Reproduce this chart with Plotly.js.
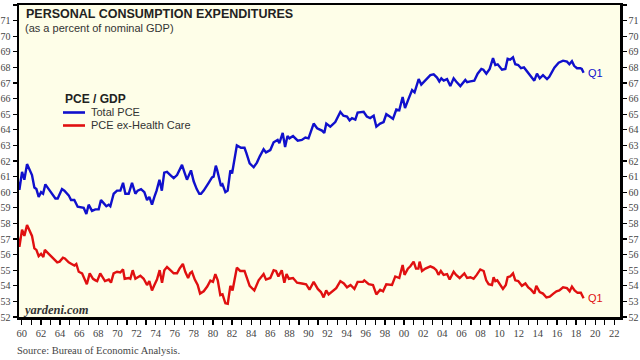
<!DOCTYPE html>
<html>
<head>
<meta charset="utf-8">
<script src="https://cdn.plot.ly/plotly-3.0.1.min.js"></script>
<style>html,body{margin:0;padding:0;background:#fff;}#chart{width:640px;height:360px;}</style>
</head>
<body>
<div id="chart"></div>
<script>
// Total PCE as % of nominal GDP (decimal year, value)
const totalYears = [1959.49,1959.74,1960.02,1960.26,1960.54,1960.89,1961.06,1961.31,1961.52,1961.76,1962.01,1962.22,1962.46,1962.81,1963.16,1963.51,1963.75,1964.2,1964.45,1964.9,1965.15,1965.49,1965.84,1966.23,1966.47,1966.75,1966.99,1967.34,1967.69,1968.04,1968.28,1968.56,1968.84,1969.09,1969.26,1969.61,1969.96,1970.31,1970.59,1970.83,1971.18,1971.53,1971.88,1972.12,1972.47,1972.82,1973.1,1973.34,1973.62,1973.87,1974.1,1974.4,1974.65,1974.9,1975.19,1975.54,1975.89,1976.24,1976.76,1977.0,1977.28,1977.7,1977.98,1978.3,1978.57,1978.75,1979.03,1979.55,1979.9,1980.07,1980.3,1980.45,1980.84,1981.0,1981.3,1981.54,1981.82,1982.0,1982.5,1982.93,1983.3,1983.5,1983.84,1984.26,1984.6,1984.9,1985.3,1985.55,1986.0,1986.35,1986.77,1986.95,1987.3,1987.55,1987.8,1988.0,1988.38,1988.87,1989.3,1989.67,1990.0,1990.54,1990.9,1991.41,1991.65,1991.86,1992.28,1992.8,1993.33,1993.65,1994.03,1994.3,1994.55,1994.9,1995.14,1995.77,1996.1,1996.45,1996.82,1997.1,1997.5,1997.86,1998.14,1998.5,1998.84,1999.19,1999.5,1999.85,2000.1,2000.48,2000.84,2001.1,2001.53,2001.8,2002.23,2002.75,2003.1,2003.45,2003.69,2003.9,2004.15,2004.5,2004.84,2005.19,2005.45,2005.89,2006.41,2006.6,2006.93,2007.35,2007.7,2008.09,2008.3,2008.61,2008.96,2009.31,2009.55,2009.8,2010.25,2010.6,2010.84,2011.1,2011.4,2011.64,2011.95,2012.24,2012.55,2012.87,2013.29,2013.63,2013.91,2014.2,2014.54,2014.96,2015.2,2015.73,2016.18,2016.64,2017.05,2017.3,2017.57,2017.8,2018.1,2018.44,2018.6,2018.79];
const totalPCE = [61.0,60.15,61.3,60.8,61.8,61.3,61.1,60.3,60.2,59.7,60.0,59.9,60.5,60.2,59.9,59.6,59.6,60.2,60.1,59.8,59.5,59.5,59.07,59.0,59.0,58.6,59.2,58.8,58.9,58.9,59.5,59.3,59.1,59.2,59.1,59.9,60.1,60.1,60.6,59.9,59.9,60.6,59.9,60.1,60.2,60.0,59.5,59.7,59.2,59.7,60.1,60.8,60.1,61.25,61.3,61.1,60.9,61.1,61.75,61.3,60.8,61.4,60.7,60.2,59.9,59.9,60.1,60.6,60.95,61.0,61.7,61.4,60.4,60.5,60.0,60.1,61.4,61.2,63.0,62.85,62.85,62.5,61.85,61.6,61.9,62.3,62.75,62.55,62.7,63.2,63.35,63.15,63.8,62.9,63.6,63.45,63.6,63.3,63.35,63.5,63.45,64.4,64.1,63.95,63.8,64.4,64.2,64.5,65.15,64.9,64.85,64.6,64.75,64.65,65.1,65.15,64.85,64.75,64.9,64.2,64.4,64.5,65.0,64.85,64.7,65.3,65.25,66.1,65.4,66.0,66.55,66.4,67.25,66.9,67.2,67.5,67.55,67.35,67.1,67.3,67.15,67.25,66.8,67.3,67.1,66.8,67.2,67.05,67.1,67.15,67.6,67.9,67.85,67.6,67.9,68.6,68.15,68.2,67.85,67.9,68.55,68.5,68.65,68.2,68.15,67.95,68.0,67.73,67.4,67.15,67.6,67.3,67.5,67.25,67.4,67.98,68.3,68.43,68.37,68.2,68.4,68.1,67.95,67.95,67.9,67.66];

// PCE ex-Health Care as % of nominal GDP (decimal year, value)
const exHealthYears = [1959.49,1959.74,1960.02,1960.26,1960.54,1960.8,1961.06,1961.31,1961.52,1961.76,1962.01,1962.25,1962.4,1962.81,1963.2,1963.7,1963.95,1964.3,1964.5,1964.9,1965.2,1965.5,1965.7,1965.95,1966.3,1966.5,1966.8,1967.1,1967.45,1967.7,1967.88,1968.2,1968.45,1968.7,1969.1,1969.33,1969.6,1969.96,1970.3,1970.59,1970.76,1971.18,1971.35,1971.6,1971.88,1972.4,1972.75,1973.1,1973.34,1973.62,1973.87,1974.14,1974.42,1974.67,1974.91,1975.19,1975.54,1975.89,1976.24,1976.5,1976.85,1977.1,1977.4,1977.6,1977.8,1978.1,1978.4,1978.65,1979.03,1979.4,1979.73,1980.0,1980.25,1980.5,1980.77,1981.0,1981.3,1981.55,1981.82,1982.05,1982.5,1982.85,1983.3,1983.84,1984.33,1984.78,1985.3,1985.55,1986.0,1986.35,1986.6,1986.85,1987.2,1987.47,1987.7,1987.95,1988.38,1988.8,1989.3,1989.75,1990.1,1990.54,1990.97,1991.3,1991.58,1991.85,1992.1,1992.56,1992.9,1993.33,1993.7,1994.03,1994.4,1994.8,1995.14,1995.7,1995.84,1996.3,1996.75,1997.1,1997.5,1997.8,1998.14,1998.74,1999.08,1999.5,1999.85,2000.05,2000.4,2000.66,2001.0,2001.25,2001.5,2001.63,2001.88,2002.23,2002.75,2003.1,2003.38,2003.6,2003.85,2004.14,2004.5,2004.77,2005.19,2005.45,2005.82,2006.31,2006.6,2006.95,2007.28,2007.6,2007.98,2008.33,2008.6,2008.85,2009.2,2009.37,2009.55,2009.75,2010.0,2010.35,2010.65,2010.84,2011.1,2011.4,2011.64,2011.95,2012.33,2012.7,2013.0,2013.29,2013.63,2013.84,2014.2,2014.54,2014.9,2015.25,2015.63,2015.95,2016.25,2016.64,2017.05,2017.33,2017.57,2017.85,2018.16,2018.5,2018.79];
const exHealthPCE = [57.47,56.5,57.6,57.2,57.9,57.6,57.2,56.4,56.3,55.9,56.05,55.85,56.3,56.05,55.8,55.5,55.55,55.8,55.75,55.5,55.4,55.3,55.4,54.9,54.8,54.55,54.1,54.8,54.45,54.35,54.3,54.8,54.5,54.3,54.4,54.2,54.8,54.9,54.85,55.05,54.45,54.5,54.45,55.0,54.45,54.65,54.45,54.05,54.3,53.7,54.05,54.4,55.0,54.2,55.0,55.2,55.0,54.8,54.8,55.1,55.4,54.9,54.5,54.8,54.9,54.4,54.05,53.5,53.65,53.95,54.33,54.25,54.75,54.35,53.4,53.45,52.88,52.85,54.0,53.7,55.16,54.95,54.95,54.0,53.7,54.35,54.75,54.4,54.5,55.0,54.95,54.6,55.0,54.2,54.75,54.45,54.5,54.2,54.15,54.1,53.75,54.25,53.8,53.6,53.26,53.7,53.45,53.65,53.85,54.3,54.15,53.9,54.05,53.8,54.25,54.25,54.35,54.1,54.05,53.45,53.75,53.65,54.1,54.05,54.6,54.5,55.33,54.7,55.1,55.25,55.55,55.1,55.1,55.55,54.95,55.1,55.25,55.15,55.0,54.7,54.95,54.7,54.75,54.4,54.9,54.7,54.5,54.8,54.5,54.55,54.45,54.7,55.05,54.95,54.35,54.1,54.05,54.55,54.3,54.35,54.15,53.8,54.05,54.55,54.6,54.8,54.35,54.3,54.0,54.15,53.9,53.75,53.5,54.0,53.6,53.5,53.25,53.3,53.5,53.65,53.7,53.9,53.85,53.65,53.95,53.7,53.55,53.55,53.2];

const seriesNames = ["Total PCE", "PCE ex-Health Care"];
const seriesColors = ["#1010CC", "#E01010"];
const xTickYears = [];
for (let y = 1960; y <= 2022; y++) xTickYears.push(y);
const xTickText = xTickYears.map(y => (y % 2 === 0 ? String(y % 100).padStart(2, "0") : ""));

const L = 19, R = 620, T = 5, B = 317;
const px = v => (v - L) / (R - L);
const py = v => (B - v) / (B - T);

const tickFont = {family: "Liberation Serif, Times New Roman, serif", size: 10.5, color: "#444"};
const yTickFont = {family: "Liberation Serif, Times New Roman, serif", size: 10, color: "#444"};

const traces = [
  {x: totalYears, y: totalPCE, type: "scatter", mode: "lines", name: seriesNames[0],
   line: {color: seriesColors[0], width: 2.4}, showlegend: false, hoverinfo: "skip"},
  {x: exHealthYears, y: exHealthPCE, type: "scatter", mode: "lines", name: seriesNames[1],
   line: {color: seriesColors[1], width: 2.4}, showlegend: false, hoverinfo: "skip"},
  {x: [totalYears[0]], y: [totalPCE[0]], yaxis: "y2", type: "scatter", mode: "lines",
   line: {width: 0}, showlegend: false, hoverinfo: "skip"}
];

const yAxisCommon = {
  range: [52, 72], dtick: 1, tick0: 52, ticks: "outside", ticklen: 4, tickwidth: 1.2, tickcolor: "#000",
  showline: true, linewidth: 2.5, linecolor: "#000", showgrid: false, zeroline: false, tickfont: yTickFont,
  fixedrange: true
};

const sans = "Liberation Sans, Arial, sans-serif";
const layout = {
  width: 640, height: 360,
  margin: {l: L, r: 640 - R, t: T, b: 360 - B},
  paper_bgcolor: "#ffffff",
  plot_bgcolor: "#FEFEE8",
  showlegend: false,
  xaxis: {
    range: [1959.7, 2022.6], tickmode: "array", tickvals: xTickYears, ticktext: xTickText,
    ticks: "outside", ticklen: 5, tickwidth: 1.2, tickcolor: "#000",
    showline: true, linewidth: 2.5, linecolor: "#000", mirror: true,
    showgrid: false, zeroline: false, tickfont: tickFont, tickangle: 0
  },
  yaxis: Object.assign({}, yAxisCommon, {side: "left"}),
  yaxis2: Object.assign({}, yAxisCommon, {side: "right", overlaying: "y"}),
  shapes: [
    {type: "line", xref: "paper", yref: "paper", x0: px(63), x1: px(85), y0: py(112.5), y1: py(112.5),
     line: {color: seriesColors[0], width: 2.6}},
    {type: "line", xref: "paper", yref: "paper", x0: px(63), x1: px(85), y0: py(125.5), y1: py(125.5),
     line: {color: seriesColors[1], width: 2.6}}
  ],
  annotations: [
    {xref: "paper", yref: "paper", x: px(24), y: py(14), xanchor: "left", yanchor: "middle", showarrow: false,
     text: "<b>PERSONAL CONSUMPTION EXPENDITURES</b>", font: {family: sans, size: 12.5, color: "#222"}},
    {xref: "paper", yref: "paper", x: px(23), y: py(28.5), xanchor: "left", yanchor: "middle", showarrow: false,
     text: "(as a percent of nominal GDP)", font: {family: sans, size: 11, color: "#333"}},
    {xref: "paper", yref: "paper", x: px(63), y: py(99), xanchor: "left", yanchor: "middle", showarrow: false,
     text: "<b>PCE / GDP</b>", font: {family: sans, size: 12, color: "#222"}},
    {xref: "paper", yref: "paper", x: px(89), y: py(112), xanchor: "left", yanchor: "middle", showarrow: false,
     text: seriesNames[0], font: {family: sans, size: 11, color: "#333"}},
    {xref: "paper", yref: "paper", x: px(89), y: py(125), xanchor: "left", yanchor: "middle", showarrow: false,
     text: seriesNames[1], font: {family: sans, size: 11, color: "#333"}},
    {xref: "paper", yref: "paper", x: px(21), y: py(310), xanchor: "left", yanchor: "middle", showarrow: false,
     text: "<b><i>yardeni.com</i></b>", font: {family: "Liberation Serif, Times New Roman, serif", size: 12.5, color: "#333"}},
    {xref: "paper", yref: "paper", x: px(15), y: py(350), xanchor: "left", yanchor: "middle", showarrow: false,
     text: "Source: Bureau of Economic Analysis.", font: {family: "Liberation Serif, Times New Roman, serif", size: 10.5, color: "#444"}},
    {xref: "x", yref: "y", x: totalYears[totalYears.length - 1], y: totalPCE[totalPCE.length - 1],
     xanchor: "left", yanchor: "middle", xshift: 2, showarrow: false, text: "Q1",
     font: {family: sans, size: 11, color: seriesColors[0]}},
    {xref: "x", yref: "y", x: exHealthYears[exHealthYears.length - 1], y: exHealthPCE[exHealthPCE.length - 1],
     xanchor: "left", yanchor: "middle", xshift: 2, showarrow: false, text: "Q1",
     font: {family: sans, size: 11, color: seriesColors[1]}}
  ]
};

Plotly.newPlot("chart", traces, layout, {staticPlot: true, displayModeBar: false});
</script>
</body>
</html>
